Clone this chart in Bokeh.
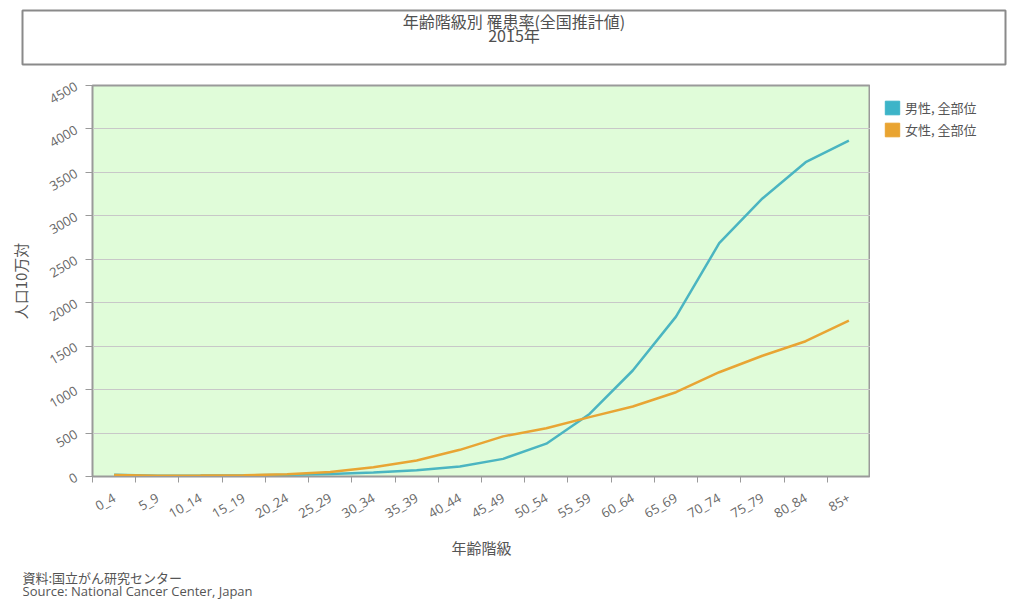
from bokeh.plotting import figure
from bokeh.layouts import column, row
from bokeh.models import (FixedTicker, Range1d, Label, Legend, LegendItem,
                          ColumnDataSource)
from bokeh.embed import file_html
from bokeh.resources import INLINE
from math import pi

# ---------------- data ----------------
age_groups = ["0_4", "5_9", "10_14", "15_19", "20_24", "25_29", "30_34", "35_39",
              "40_44", "45_49", "50_54", "55_59", "60_64", "65_69", "70_74",
              "75_79", "80_84", "85+"]
male_all_sites = [20, 10, 11, 14, 20, 28, 45, 72, 115, 203, 378, 720, 1220,
                  1840, 2685, 3200, 3617, 3865]
female_all_sites = [18, 10, 11, 15, 27, 52, 107, 184, 307, 462, 555, 683, 805,
                    970, 1200, 1390, 1557, 1795]
y_ticks = [0, 500, 1000, 1500, 2000, 2500, 3000, 3500, 4000, 4500]

series_names = ["男性, 全部位", "女性, 全部位"]
title_line1 = "年齢階級別 罹患率(全国推計値)"
title_line2 = "2015年"
x_title = "年齢階級"
y_title = "人口10万対"
source_jp = "資料:国立がん研究センター"
source_en = "Source: National Cancer Center, Japan"

TEAL = "#4bb5c1"
ORANGE = "#e8a534"
SW_TEAL = "#3db4c8"
SW_ORANGE = "#e9a431"
CJK = "Noto Sans CJK JP"
LAT = "Open Sans"
NAN = float("nan")


def bare(fig):
    fig.xgrid.grid_line_color = None
    fig.ygrid.grid_line_color = None
    fig.border_fill_color = "white"
    fig.background_fill_color = "white"
    fig.title.visible = False
    return fig


# ---------------- title box ----------------
tf = figure(width=1016, height=78, output_backend="svg", toolbar_location=None,
            x_range=Range1d(0, 1), y_range=Range1d(0, 1),
            x_axis_location=None, y_axis_location=None,
            min_border_left=22, min_border_right=11, min_border_top=10,
            min_border_bottom=14)
bare(tf)
tf.outline_line_color = "#8a8a8a"
tf.outline_line_width = 2
for txt, yy in [(title_line1, 0.81), (title_line2, 0.54)]:
    tf.add_layout(Label(x=0.5, y=yy, text=txt, text_align="center",
                        text_baseline="middle", text_font=CJK,
                        text_font_size="16px", text_color="#505050"))

# ---------------- main chart ----------------
x_idx = list(range(len(age_groups)))
src = ColumnDataSource(dict(x=x_idx, male=male_all_sites, female=female_all_sites))

p = figure(width=870, height=490, output_backend="svg", toolbar_location=None,
           x_range=Range1d(-0.5, len(age_groups) - 0.5),
           y_range=Range1d(0, 4500),
           min_border_left=92, min_border_top=7, min_border_right=0,
           min_border_bottom=92)
p.title.visible = False
p.background_fill_color = "#e0fcd9"
p.border_fill_color = "white"
p.outline_line_color = "#9a9a9a"
p.outline_line_width = 2

p.xgrid.grid_line_color = None
p.ygrid.grid_line_color = "#c8c8c8"
p.ygrid.grid_line_width = 1

p.yaxis.ticker = FixedTicker(ticks=y_ticks)
p.yaxis.major_label_orientation = pi / 6
p.yaxis.major_label_text_font = LAT
p.yaxis.major_label_text_font_size = "13px"
p.yaxis.major_label_text_color = "#666666"
p.yaxis.major_label_standoff = 9
p.yaxis.axis_line_color = "#9a9a9a"
p.yaxis.major_tick_line_color = "#9a9a9a"
p.yaxis.major_tick_out = 7
p.yaxis.major_tick_in = 0
p.yaxis.minor_tick_line_color = None
p.yaxis.axis_label = y_title
p.yaxis.axis_label_text_font = CJK
p.yaxis.axis_label_text_font_size = "15px"
p.yaxis.axis_label_text_font_style = "normal"
p.yaxis.axis_label_text_color = "#555555"
p.yaxis.axis_label_standoff = 12

p.xaxis.ticker = FixedTicker(ticks=x_idx,
                             minor_ticks=[i - 0.5 for i in range(len(age_groups) + 1)])
p.xaxis.major_label_overrides = {i: lab for i, lab in enumerate(age_groups)}
p.xaxis.major_label_orientation = pi / 6
p.xaxis.major_label_text_font = LAT
p.xaxis.major_label_text_font_size = "13px"
p.xaxis.major_label_text_color = "#666666"
p.xaxis.major_label_standoff = 14
p.xaxis.major_tick_out = 0
p.xaxis.major_tick_in = 0
p.xaxis.minor_tick_out = 6
p.xaxis.minor_tick_in = 0
p.xaxis.minor_tick_line_color = "#9a9a9a"
p.xaxis.axis_line_color = "#9a9a9a"
p.xaxis.axis_label = x_title
p.xaxis.axis_label_text_font = CJK
p.xaxis.axis_label_text_font_size = "15px"
p.xaxis.axis_label_text_font_style = "normal"
p.xaxis.axis_label_text_color = "#555555"
p.xaxis.axis_label_standoff = 4

p.line("x", "male", source=src, line_color=TEAL, line_width=2.5)
p.line("x", "female", source=src, line_color=ORANGE, line_width=2.5)

# ---------------- legend panel ----------------
lf = figure(width=146, height=490, output_backend="svg", toolbar_location=None,
            x_range=Range1d(0, 1), y_range=Range1d(0, 1),
            x_axis_location=None, y_axis_location=None,
            min_border_left=0, min_border_right=0, min_border_top=7,
            min_border_bottom=0)
bare(lf)
lf.outline_line_color = None
sw_m = lf.quad(top=[NAN], bottom=[NAN], left=[NAN], right=[NAN],
               fill_color=SW_TEAL, line_color=SW_TEAL)
sw_f = lf.quad(top=[NAN], bottom=[NAN], left=[NAN], right=[NAN],
               fill_color=SW_ORANGE, line_color=SW_ORANGE)
legend = Legend(items=[LegendItem(label=series_names[0], renderers=[sw_m]),
                       LegendItem(label=series_names[1], renderers=[sw_f])],
                location="top_left", margin=13, padding=2, spacing=3,
                glyph_width=18, glyph_height=17, label_standoff=4,
                label_height=17,
                label_text_font=CJK, label_text_font_size="13px",
                label_text_color="#555555", border_line_color=None,
                background_fill_alpha=0)
lf.add_layout(legend)

# ---------------- footer ----------------
ff = figure(width=1016, height=34, output_backend="svg", toolbar_location=None,
            x_range=Range1d(0, 1016), y_range=Range1d(0, 34),
            x_axis_location=None, y_axis_location=None,
            min_border_left=0, min_border_right=0, min_border_top=0,
            min_border_bottom=0)
bare(ff)
ff.outline_line_color = None
ff.add_layout(Label(x=0, y=25, text=source_jp, text_align="left",
                    text_baseline="middle", text_font=CJK,
                    text_font_size="13px", text_color="#555555"))
ff.add_layout(Label(x=0, y=12, text=source_en, text_align="left",
                    text_baseline="middle", text_font=LAT,
                    text_font_size="13px", text_color="#555555"))

layout = column(tf, row(p, lf), ff)
open("out.html", "w").write(file_html(layout, INLINE))
